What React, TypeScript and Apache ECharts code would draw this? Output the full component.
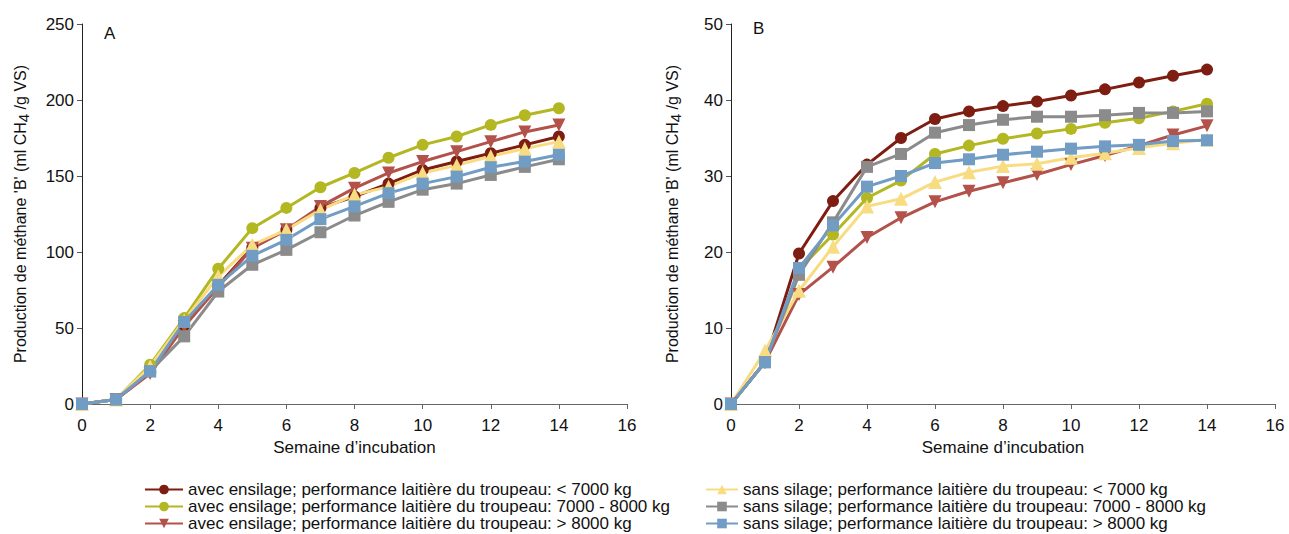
import React, { useEffect, useRef } from "react";
import * as echarts from "echarts";

const weeks = [0, 1, 2, 3, 4, 5, 6, 7, 8, 9, 10, 11, 12, 13, 14];

const seriesNames = [
  "avec ensilage; performance laitière du troupeau: < 7000 kg",
  "avec ensilage; performance laitière du troupeau: 7000 - 8000 kg",
  "avec ensilage; performance laitière du troupeau: > 8000 kg",
  "sans silage; performance laitière du troupeau: < 7000 kg",
  "sans silage; performance laitière du troupeau: 7000 - 8000 kg",
  "sans silage; performance laitière du troupeau: > 8000 kg",
];

// Chart A
const aAvecLow = [0, 3, 21.5, 52, 78, 103, 114.6, 129, 136.5, 145, 154, 159.5, 165, 170.5, 176];
const aAvecMid = [0, 3, 25.8, 56.5, 89, 115.7, 129, 142.6, 152, 162, 170.5, 176, 183.6, 190, 194.6];
const aAvecHigh = [0, 3, 20, 51, 77, 102.5, 114.6, 130, 142, 152, 159.5, 166, 172.6, 179, 183.6];
const aSansLow = [0, 3, 24.7, 55, 84, 104.7, 114.6, 127.7, 137.6, 143, 152, 157, 163, 168, 172.6];
const aSansMid = [0, 3, 21.5, 44.5, 74, 91.6, 101.4, 113, 124, 133, 141, 145, 150.7, 156, 161];
const aSansHigh = [0, 3, 21.5, 54, 78.4, 97.5, 108, 121.6, 130, 138.7, 145, 149.6, 155.8, 159.5, 164];

// Chart B
const bAvecLow = [0, 5.5, 19.8, 26.7, 31.5, 35, 37.5, 38.5, 39.2, 39.8, 40.6, 41.4, 42.3, 43.2, 44];
const bAvecMid = [0, 5.5, 17.7, 22.3, 27.1, 29.4, 32.9, 34, 34.9, 35.6, 36.2, 37, 37.6, 38.5, 39.5];
const bAvecHigh = [0, 5.5, 14.4, 18, 21.9, 24.5, 26.6, 28, 29.1, 30.2, 31.5, 32.7, 34, 35.4, 36.6];
const bSansLow = [0, 7, 14.9, 20.7, 26, 27, 29.2, 30.5, 31.3, 31.6, 32.4, 33, 33.7, 34.3, 34.8];
const bSansMid = [0, 5.5, 17, 23.9, 31.2, 32.9, 35.7, 36.7, 37.4, 37.8, 37.8, 38, 38.3, 38.3, 38.5];
const bSansHigh = [0, 5.5, 17.9, 23.5, 28.6, 30, 31.7, 32.2, 32.8, 33.2, 33.6, 33.9, 34.1, 34.6, 34.7];

const colors = ["#7e1d12", "#b3b722", "#b3524a", "#f8dc82", "#8b8b8b", "#719cc4"];
const symbols = [
  "circle",
  "circle",
  "path://M0,0 L10,0 L5,9 Z",
  "triangle",
  "rect",
  "rect",
];

const narrow = "'Liberation Sans Narrow', 'Liberation Sans', Arial, sans-serif";
const arial = "'Liberation Sans', Arial, sans-serif";

export default function App() {
  const ref = useRef<HTMLDivElement>(null);
  useEffect(() => {
    if (!ref.current) return;
    const chart = echarts.init(ref.current, undefined, { renderer: "svg" });
    const aData = [aAvecLow, aAvecMid, aAvecHigh, aSansLow, aSansMid, aSansHigh];
    const bData = [bAvecLow, bAvecMid, bAvecHigh, bSansLow, bSansMid, bSansHigh];

    const mk = (vals: number[], i: number, idx: number) => ({
      type: "line",
      name: seriesNames[i],
      xAxisIndex: idx,
      yAxisIndex: idx,
      data: weeks.map((w, k) => [w, vals[k]]),
      symbol: symbols[i],
      symbolSize: i === 3 ? 14 : i === 2 ? 13 : 12,
      showAllSymbol: true,
      color: colors[i],
      lineStyle: { width: 3, color: colors[i] },
      itemStyle: { color: colors[i] },
      emphasis: { disabled: true },
    });

    const series: any[] = [];
    aData.forEach((v, i) => series.push(mk(v, i, 0)));
    bData.forEach((v, i) => series.push(mk(v, i, 1)));

    const xAxisBase = (gridIndex: number, font: string) => ({
      type: "value",
      gridIndex,
      min: 0,
      max: 16,
      interval: 2,
      name: "Semaine d’incubation",
      nameLocation: "middle",
      nameGap: 32,
      nameTextStyle: { fontFamily: narrow, fontSize: 17, color: "#111" },
      axisLine: { show: true, lineStyle: { color: "#666", width: 1 } },
      axisTick: { show: true, length: 5, lineStyle: { color: "#666" } },
      axisLabel: { margin: 13, fontFamily: font, fontSize: 17, color: "#111" },
      splitLine: { show: false },
    });

    const yAxisBase = (gridIndex: number, max: number, interval: number, font: string, gap: number) => ({
      type: "value",
      gridIndex,
      min: 0,
      max,
      interval,
      name: "{a|Production de méthane 'B' (ml CH}{s|4}{a| /g VS)}",
      nameLocation: "middle",
      nameGap: gap,
      nameTextStyle: {
        fontFamily: font,
        fontSize: 16,
        color: "#111",
        rich: {
          a: { fontFamily: font, fontSize: 16, color: "#111", lineHeight: 22, verticalAlign: "middle" },
          s: { fontFamily: font, fontSize: 15, color: "#111", lineHeight: 22, verticalAlign: "bottom" },
        },
      },
      axisLine: { show: true, lineStyle: { color: "#222", width: 1 } },
      axisTick: { show: true, length: 5, lineStyle: { color: "#555" } },
      axisLabel: { margin: 8, fontFamily: font, fontSize: 17, color: "#111" },
      splitLine: { show: false },
    });

    const rowCenters = [489, 506, 523];
    const legends = seriesNames.map((name, i) => {
      const col = i < 3 ? 0 : 1;
      const row = i % 3;
      return {
        left: col === 0 ? 144 : 705,
        top: rowCenters[row] - 8,
        orient: "horizontal",
        itemWidth: col === 0 ? 38 : 32,
        itemHeight: 12,
        itemGap: 0,
        padding: 0,
        data: [name],
        textStyle: { fontFamily: narrow, fontSize: 17, lineHeight: 16, color: "#111" },
        selectedMode: false,
      };
    });

    chart.setOption({
      animation: false,
      backgroundColor: "#fff",
      grid: [
        { left: 82, top: 24, width: 545, height: 380 },
        { left: 731, top: 24, width: 544, height: 380 },
      ],
      xAxis: [xAxisBase(0, narrow), xAxisBase(1, arial)],
      yAxis: [yAxisBase(0, 250, 50, narrow, 51), yAxisBase(1, 50, 10, arial, 48)],
      legend: legends,
      graphic: [
        {
          type: "text",
          left: 104,
          top: 25,
          style: { text: "A", font: `17px ${narrow}`, fill: "#111" },
        },
        {
          type: "text",
          left: 753,
          top: 20,
          style: { text: "B", font: `17px ${narrow}`, fill: "#111" },
        },
      ],
      series,
    });
    return () => chart.dispose();
  }, []);
  return (
    <div
      ref={ref}
      style={{ position: "absolute", left: 0, top: 0, width: 1289, height: 534 }}
    />
  );
}
